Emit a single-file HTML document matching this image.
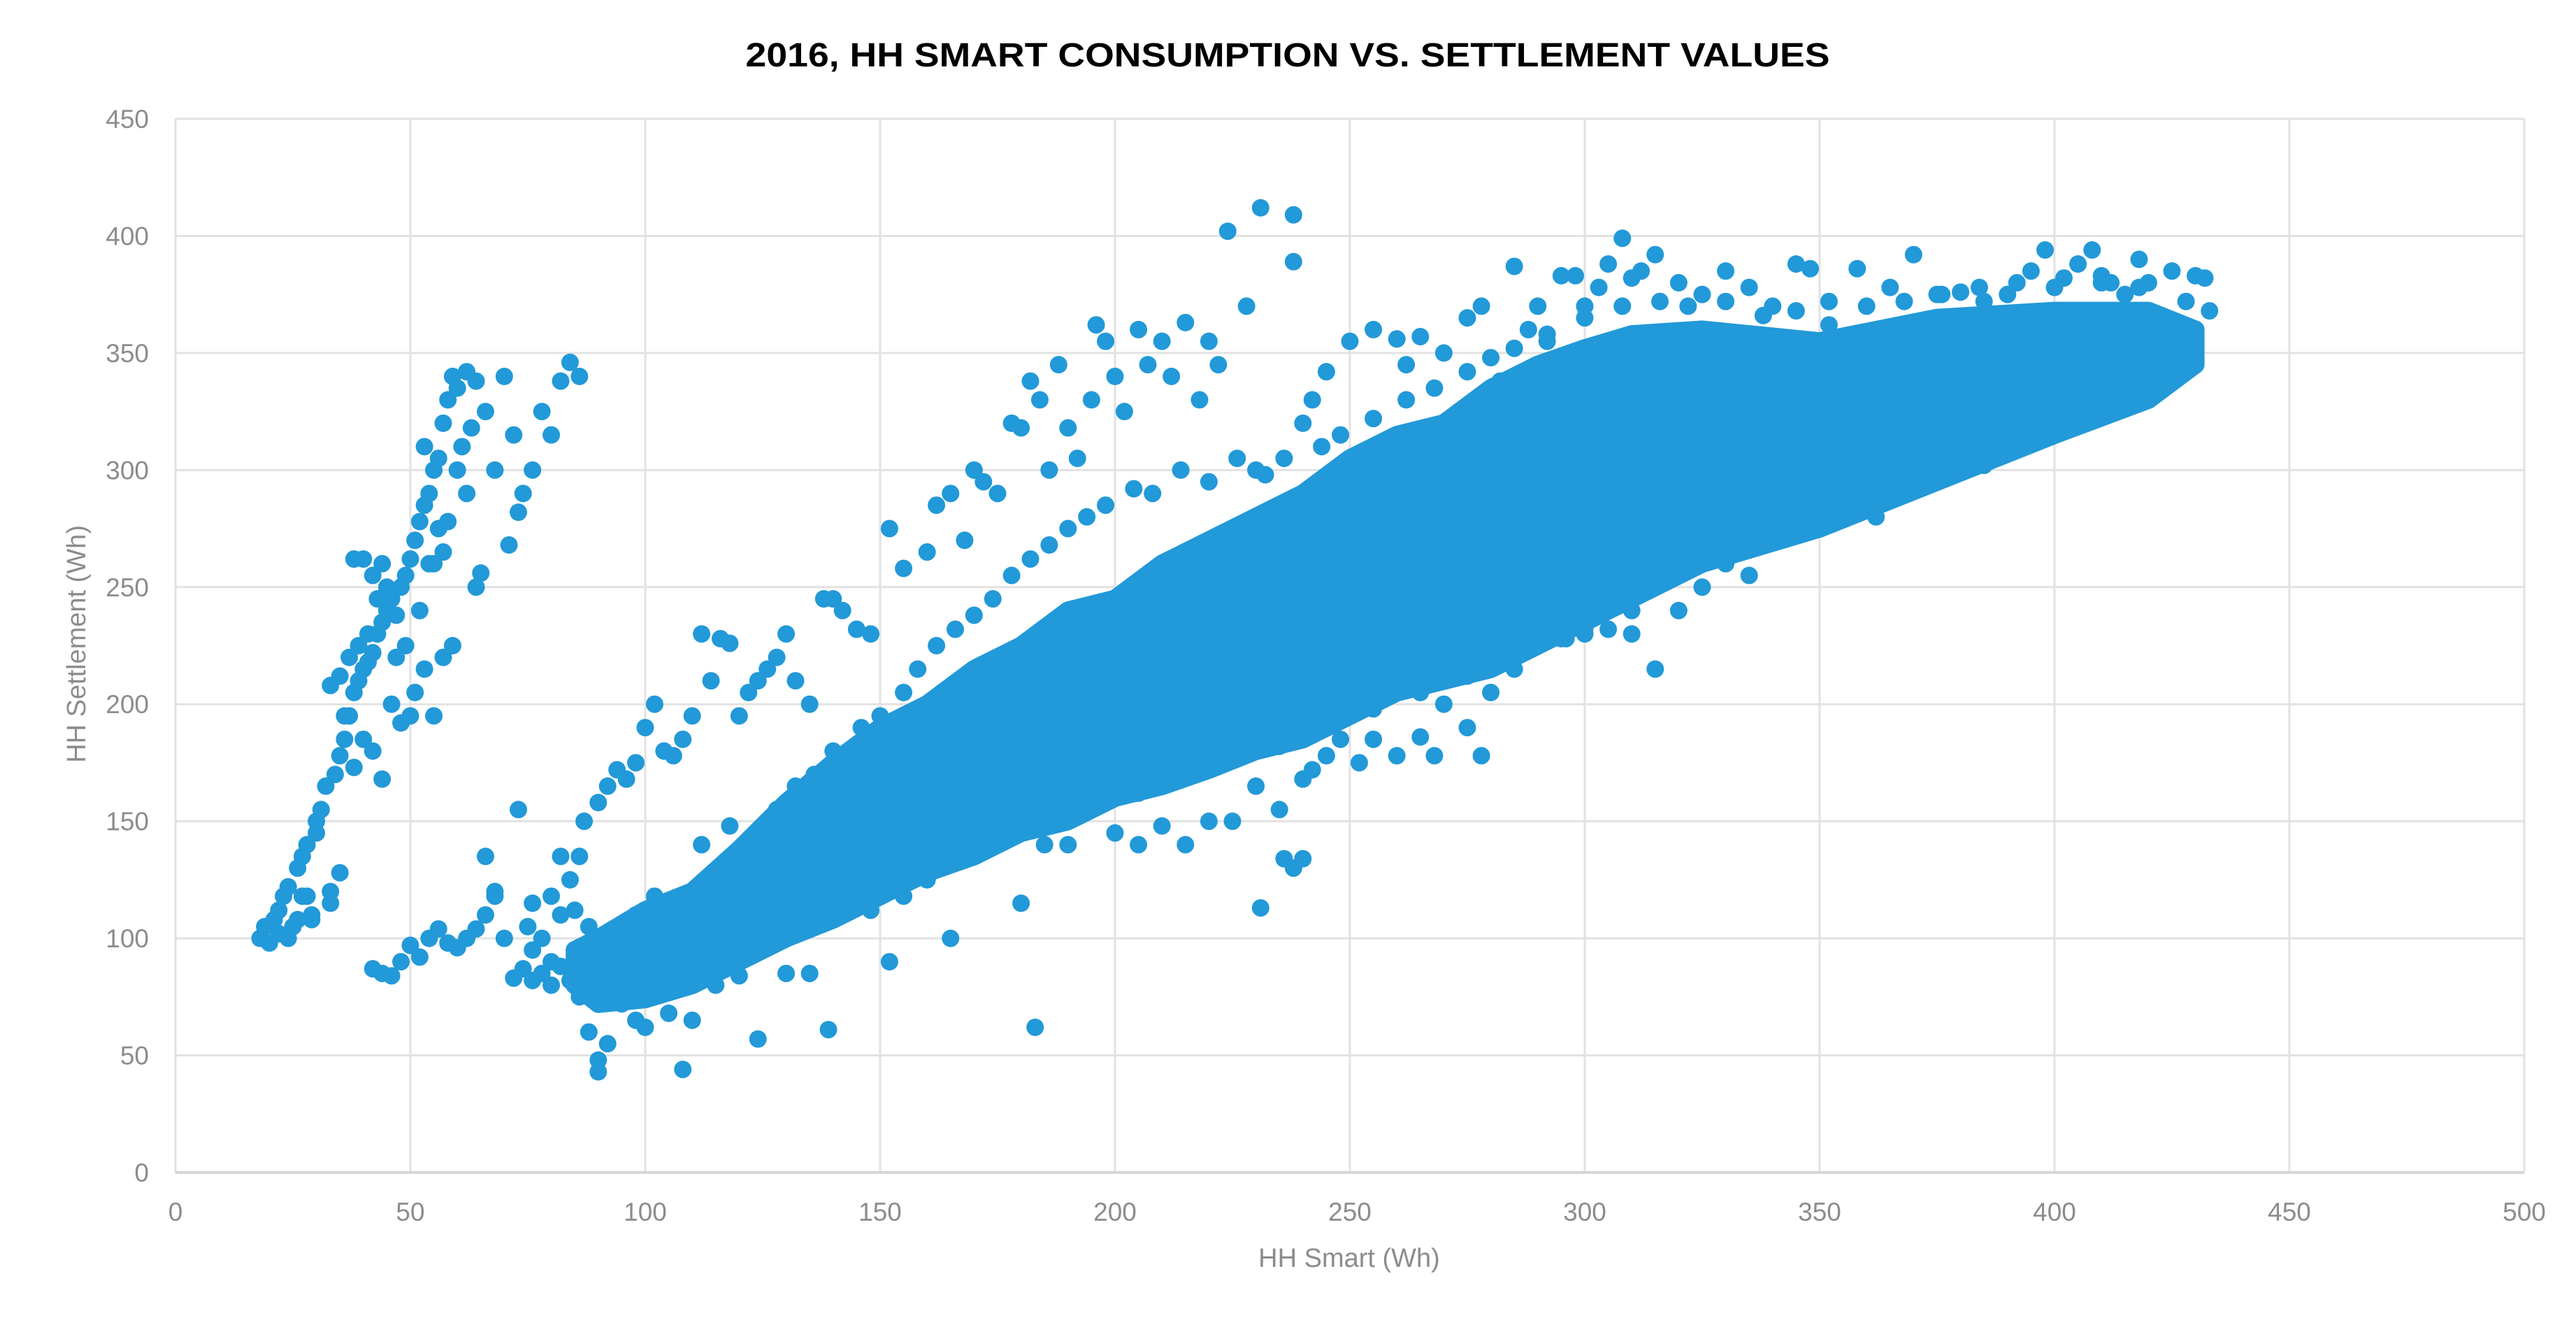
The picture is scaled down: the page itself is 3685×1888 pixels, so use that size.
<!DOCTYPE html>
<html><head><meta charset="utf-8"><style>
html,body{margin:0;padding:0;background:#fff}
svg{display:block}
text{font-family:"Liberation Sans",sans-serif}
</style></head><body>
<svg id="chart" width="3685" height="1888" viewBox="0 0 3685 1888" xmlns="http://www.w3.org/2000/svg">
<rect width="3685" height="1888" fill="#fff"/>
<text x="1842" y="95" text-anchor="middle" font-size="48" font-weight="bold" fill="#000" textLength="1551" lengthAdjust="spacingAndGlyphs">2016, HH SMART CONSUMPTION VS. SETTLEMENT VALUES</text>
<g id="grid"></g>
<g id="ticks"></g>
<g id="marks"></g>
<text x="1930" y="1812" text-anchor="middle" font-size="38" fill="#8c8c8c">HH Smart (Wh)</text>
<text x="0" y="0" transform="translate(122,921) rotate(-90)" text-anchor="middle" font-size="38" fill="#8c8c8c">HH Settlement (Wh)</text>
</svg>
<script>
const xTicks=[0,50,100,150,200,250,300,350,400,450,500];
const yTicks=[0,50,100,150,200,250,300,350,400,450];
// dense core envelope
const bandX=[85,90,100,110,120,130,140,150,160,170,180,190,200,210,220,230,240,250,260,270,280,290,300,310,325,350,375,400,420,430];
const bandLow=[80,72,74,80,90,100,108,118,128,135,145,150,160,165,172,180,185,195,205,210,215,225,235,245,260,275,295,315,330,345];
const bandHigh=[95,100,112,120,138,158,175,190,200,215,225,240,245,260,270,280,290,305,315,320,335,345,352,358,360,355,365,368,368,360];
// scattered points (x values, y values)
const ptsX=[18,19,20,21,22,23,24,25,26,27,28,29,30,31,32,33,34,35,36,37,38,39,40,41,42,43,44,45,46,47,48,49,50,51,52,53,54,55,56,57,58,59,60,62,64,66,68,70,72,74,76,78,80,82,84,86,33,35,37,39,41,43,45,47,49,51,53,55,57,59,46,48,50,44,42,38,36,30,28,26,33,35,40,52,54,56,58,60,62,64,65,71,73,63,61,55,57,53,38,40,42,44,22,24,27,29,
42,44,46,48,50,52,54,56,58,60,62,64,66,68,70,72,74,76,78,80,82,84,86,66,68,75,80,85,88,76,73,82,87,90,92,94,96,98,100,102,104,106,108,110,112,114,116,118,120,122,124,126,128,130,132,135,138,140,142,145,148,152,155,160,162,165,168,170,172,175,178,180,182,184,186,188,190,192,195,196,198,200,202,205,207,210,212,215,218,220,222,224,228,231,238,238,
230,240,242,245,250,255,260,262,265,270,275,278,280,282,285,288,290,292,295,298,300,303,305,308,310,312,315,320,325,330,335,340,345,348,352,358,365,370,375,380,385,390,395,398,402,405,408,410,412,415,418,420,425,428,430,432,433,420,425,415,418,410,405,400,395,390,385,380,378,370,362,355,350,345,340,335,330,325,320,315,310,305,300,296,290,285,280,278,275,270,268,265,260,255,252,248,245,242,240,238,236,240,231,235,230,225,220,215,210,205,200,195,190,185,180,183,165,160,155,152,148,145,140,139,135,130,124,120,115,110,108,105,100,95,90,90,88,92,98,86,84,82,80,78,76,96,98,102,106,110,115,125,112,118,124,128,132,136,140,146,150,155,158,162,166,170,174,178,182,186,190,194,198,204,208,214,220,226,232,236,244,248,
255,262,268,275,285,292,300,308,316,322,330,338,345,352,360,368,376,384,392,400,410,418,300,310,320,330,340,350,360,370,380,390,400,410,420,175,185,195,205,215,225,235,245,255,265,275,285,295,130,140,150,160,170,180,190];
const ptsY=[100,105,98,108,112,118,122,105,130,135,140,110,145,155,165,120,170,178,185,195,205,210,215,218,222,230,235,240,245,238,250,255,262,270,278,285,290,300,305,320,330,340,335,342,338,325,300,340,315,290,300,325,315,338,346,340,208,212,220,225,230,245,250,220,225,205,215,195,220,225,200,192,195,168,180,173,195,150,118,108,115,128,185,240,260,275,278,300,290,250,256,268,282,318,310,260,265,310,262,262,255,260,102,100,118,108,
87,85,84,90,97,92,100,104,98,96,100,104,110,118,100,83,87,95,100,90,110,125,135,135,120,105,118,112,105,115,155,135,150,158,165,172,168,175,190,200,180,178,185,195,230,210,228,226,195,205,210,215,220,230,210,200,245,245,240,232,230,275,258,265,285,290,270,300,295,290,320,318,338,330,300,345,318,305,330,362,355,340,325,360,345,355,340,363,330,355,345,402,370,412,409,389,
300,320,330,342,355,360,356,345,357,350,365,370,348,338,387,360,370,355,383,383,370,378,388,399,382,385,392,380,375,385,378,370,388,386,372,386,378,392,375,376,372,375,385,394,382,388,394,383,380,375,390,380,385,372,383,382,368,345,350,336,338,360,350,342,325,330,302,315,320,305,280,290,300,275,285,255,260,250,240,215,230,232,232,228,225,215,205,178,190,200,178,186,178,185,175,185,178,172,168,130,134,134,113,155,165,150,150,140,148,140,145,155,140,140,115,62,100,125,118,90,112,115,110,61,85,85,57,84,80,65,44,68,62,72,43,48,60,55,65,75,82,88,80,85,82,95,110,118,95,105,120,128,140,148,142,155,165,170,180,190,195,205,215,225,232,238,245,255,262,268,275,280,285,292,290,300,295,305,298,305,310,315,
322,330,335,342,352,358,365,370,372,370,372,366,368,362,370,372,375,378,380,378,380,378,230,240,255,268,272,282,290,298,305,312,320,328,335,140,150,158,162,172,178,182,190,198,205,212,220,228,125,135,140,148,155,160,168];

const L=251,R=3611,T=170,B=1677;
const sx=v=>L+(v-0)/(500-0)*(R-L);
const sy=v=>B-(v-0)/(450-0)*(B-T);
const NS='http://www.w3.org/2000/svg';
const COL='#2299D8';
const grid=document.getElementById('grid'),ticks=document.getElementById('ticks'),marks=document.getElementById('marks');
function mk(tag,attrs,parent){const e=document.createElementNS(NS,tag);for(const k in attrs)e.setAttribute(k,attrs[k]);parent.appendChild(e);return e;}
xTicks.forEach(v=>{
  const g=mk('line',{x1:sx(v),x2:sx(v),y1:T,y2:B,stroke:'#e2e2e2','stroke-width':3},grid);
  
  
  const t=mk('text',{x:sx(v),y:1746,'text-anchor':'middle','font-size':37,fill:'#8c8c8c'},ticks);
  t.textContent=v;
  
  
});
yTicks.forEach(v=>{
  const g=mk('line',{x1:L,x2:R,y1:sy(v),y2:sy(v),stroke:'#e2e2e2','stroke-width':3},grid);
  
  
  const t=mk('text',{x:213,y:sy(v)+13,'text-anchor':'end','font-size':37,fill:'#8c8c8c'},ticks);
  t.textContent=v;
  
  
});
const axl=mk('line',{x1:L,x2:R,y1:B,y2:B,stroke:'#d6d6d6','stroke-width':4},grid);


let d='';
bandX.forEach((v,i)=>{d+=(i?'L':'M')+sx(v)+','+sy(bandHigh[i]);});
for(let i=bandX.length-1;i>=0;i--){d+='L'+sx(bandX[i])+','+sy(bandLow[i]);}
d+='Z';
const band=mk('path',{d:d,fill:COL,stroke:COL,'stroke-width':26,'stroke-linejoin':'round'},marks);


ptsX.forEach((v,i)=>{
  const c=mk('circle',{cx:sx(v),cy:sy(ptsY[i]),r:12.5,fill:COL},marks);
  
  
});
</script>
</body></html>
